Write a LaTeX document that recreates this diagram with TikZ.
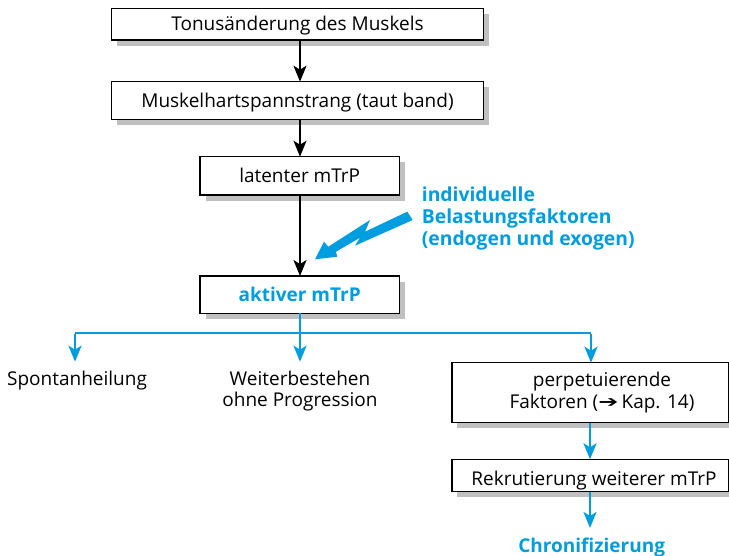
\documentclass[tikz,border=0pt]{standalone}
\usepackage{fontspec}
\usepackage{graphicx}
\setmainfont{Open Sans}
\newfontfamily\symfont{DejaVu Sans}
\usetikzlibrary{arrows.meta,shadows}
\definecolor{myblue}{RGB}{0,158,224}
\definecolor{shadowgray}{RGB}{192,192,192}
\begin{document}
\begin{tikzpicture}[x=1pt,y=-1pt,
  box/.style={draw=black, line width=1.3pt, fill=white, inner sep=0pt, outer sep=0pt,
    drop shadow={shadow xshift=5.5pt, shadow yshift=-5.5pt, fill=shadowgray, opacity=1},
    text height=13.5pt, text depth=0pt, font=\fontsize{19}{22}\selectfont},
  txt/.style={font=\fontsize{19}{22}\selectfont, inner sep=0pt, anchor=base},
  btxt/.style={font=\fontsize{19}{22}\selectfont\bfseries, text=myblue, inner sep=0pt},
  blk/.style={draw=black, line width=2pt, -{Stealth[length=16pt,width=13pt,inset=4pt]}},
  bline/.style={draw=myblue, line width=2.4pt},
  blu/.style={draw=myblue, line width=2.4pt, -{Stealth[length=16pt,width=13pt,inset=4pt]}},
]
\useasboundingbox (0,0) rectangle (729,555);

% boxes
\node[box, minimum width=371.6pt, minimum height=31.7pt] (b1) at (297.5,24.2) {Tonusänderung des Muskels};
\node[box, minimum width=371.6pt, minimum height=37.6pt] (b2) at (297.5,100.5) {Muskelhartspannstrang (taut band)};
\node[box, minimum width=199.3pt, minimum height=38.3pt] (b3) at (299.7,175.9) {latenter mTrP};
\node[box, minimum width=199.3pt, minimum height=37.3pt, font=\fontsize{19}{22}\selectfont\bfseries, text=myblue] (b4) at (299.7,294.7) {aktiver mTrP};
\node[box, minimum width=276.3pt, minimum height=60pt] (b5) at (590,392.7) {};
\node[box, minimum width=276.3pt, minimum height=32.4pt] (b6) at (590,475.5) {};

% texts
\node[txt] (t5a) at (602,386.7) {perpetuierende};
\node[txt] (t5b) at (602,408) {Faktoren ({\symfont\fontsize{16}{22}\selectfont\raisebox{0.5pt}{\scalebox{1.5}[1.0]{➔}}}\,Kap. 14)};
\node[txt] (t6) at (594,485.5) {Rekrutierung weiterer mTrP};
\node[txt] (s1) at (77,385.5) {Spontanheilung};
\node[txt] (s2a) at (300,385) {Weiterbestehen};
\node[txt] (s2b) at (300,406) {ohne Progression};
\node[btxt, anchor=base] (chr) at (591.7,552.5) {Chronifizierung};
\node[btxt, anchor=base west, font=\fontsize{19.3}{22}\selectfont\bfseries] (f1) at (421.7,201.7) {individuelle};
\node[btxt, anchor=base west, font=\fontsize{19.3}{22}\selectfont\bfseries] (f2) at (421.7,223.3) {Belastungsfaktoren};
\node[btxt, anchor=base west, font=\fontsize{19.3}{22}\selectfont\bfseries] (f3) at (421.7,245) {(endogen und exogen)};

% black arrows
\draw[blk] ([xshift=2.5pt]b1.south) -- ([xshift=2.5pt]b2.north);
\draw[blk] ([xshift=2.5pt]b2.south) -- ([xshift=0.3pt]b3.north);
\draw[blk] ([xshift=0.3pt]b3.south) -- ([xshift=0.3pt]b4.north);

% lightning bolt
\fill[myblue] (407.3,211.7) -- (412.7,220) -- (355,245.7) -- (360,237.7)
  -- (336,251.7) -- (337.3,256.7) -- (315,259.3) -- (324,241.7) -- (328.3,246.7)
  -- (370,220) -- (365,231.7) -- cycle;

% blue tree
\coordinate (j) at (300,332.7);
\coordinate (jl) at (75,332.7);
\coordinate (jr) at (591,332.7);
\coordinate (tl) at (75,361.7);
\coordinate (tm) at (300,361.7);
\coordinate (cb) at (590,528);
\draw[bline] ([xshift=0.3pt]b4.south) -- (j);
\draw[bline] (jl) -- (jr);
\draw[blu] ([yshift=-1.2pt]jl) -- (tl);
\draw[blu] (j) -- (tm);
\draw[blu] ([yshift=-1.2pt]jr) -- (jr |- b5.north);
\draw[blu] (b5.south) -- (b6.north);
\draw[blu] (b6.south) -- (cb);
\end{tikzpicture}
\end{document}
